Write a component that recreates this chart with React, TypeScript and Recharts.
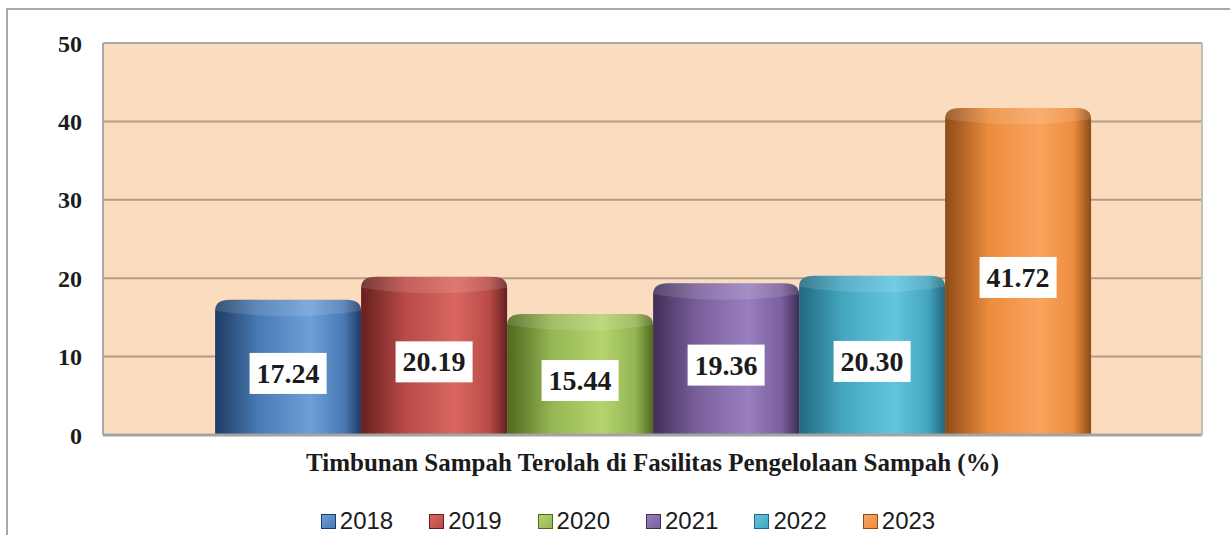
import React from "react";
import {
  Bar,
  BarChart,
  CartesianGrid,
  LabelList,
  Legend,
  ReferenceLine,
  XAxis,
  YAxis,
} from "recharts";

const categories = ["Timbunan Sampah Terolah di Fasilitas Pengelolaan Sampah (%)"];
const years = ["2018", "2019", "2020", "2021", "2022", "2023"];
const values = [17.24, 20.19, 15.44, 19.36, 20.3, 41.72];
const yTicks = [0, 10, 20, 30, 40, 50];

const baseColors = ["#4a7ab5", "#b84a47", "#94b553", "#7a5f9c", "#45a6c0", "#ec8c3e"];
const darkColors = ["#1f3b64", "#65201f", "#4f681c", "#402f57", "#22687d", "#8e4b16"];
const lightColors = ["#6f9fd8", "#d9675f", "#b5d46e", "#9a7fc0", "#62c6de", "#f8a45e"];

const data = categories.map((name) => {
  const row: Record<string, string | number> = { name };
  years.forEach((y, i) => {
    row[y] = values[i];
  });
  return row;
});

const SERIF = "'Liberation Serif', 'DejaVu Serif', serif";

function Cylinder(props: any) {
  const { x, y, width, height } = props;
  const gid = `cyl-${props.dataKey}`;
  const r = 15;
  const ry = 11;
  const path = `M${x},${y + height} L${x},${y + ry} Q${x},${y} ${x + r},${y} L${x + width - r},${y} Q${x + width},${y} ${x + width},${y + ry} L${x + width},${y + height} Z`;
  const cap = `M${x},${y + ry} Q${x},${y} ${x + r},${y} L${x + width - r},${y} Q${x + width},${y} ${x + width},${y + ry} Q${x + width / 2},${y + 2 * ry} ${x},${y + ry} Z`;
  return (
    <g>
      <path d={path} fill={`url(#${gid})`} />
      <path d={cap} fill="#ffffff" fillOpacity={0.12} />
    </g>
  );
}

function ValueBox(props: any) {
  const { x, y, width, height, value } = props;
  const cx = x + width / 2;
  const cy = y + height / 2 + 6;
  const w = 77;
  const h = 41;
  return (
    <g>
      <rect x={cx - w / 2} y={cy - h / 2} width={w} height={h} fill="#ffffff" />
      <text
        x={cx}
        y={cy}
        textAnchor="middle"
        dominantBaseline="central"
        fontFamily={SERIF}
        fontWeight="bold"
        fontSize={28}
        fill="#1b1b1b"
      >
        {Number(value).toFixed(2)}
      </text>
    </g>
  );
}

function LegendContent() {
  return (
    <div style={{ display: "flex", justifyContent: "center", gap: 36, paddingLeft: 26 }}>
      {years.map((y, i) => (
        <div key={y} style={{ display: "flex", alignItems: "center", gap: 4 }}>
          <span
            style={{
              display: "inline-block",
              width: 13,
              height: 13,
              background: `linear-gradient(135deg, ${lightColors[i]}, ${baseColors[i]})`,
              border: `1px solid ${darkColors[i]}`,
            }}
          />
          <span
            style={{
              fontFamily: "'Liberation Sans', Arial, sans-serif",
              fontSize: 24,
              color: "#1b1b1b",
              lineHeight: "26px",
            }}
          >
            {y}
          </span>
        </div>
      ))}
    </div>
  );
}

export default function App() {
  return (
    <div style={{ position: "absolute", left: 0, top: 0, width: 1230, height: 535, background: "#ffffff", overflow: "hidden" }}>
      <div
        style={{
          position: "absolute",
          left: 6,
          top: 8,
          width: 1240,
          height: 540,
          borderTop: "2px solid #a9a9a9",
          borderLeft: "2px solid #a9a9a9",
        }}
      />
      <BarChart
        width={1230}
        height={535}
        data={data}
        margin={{ top: 43, right: 0, left: 0, bottom: 30 }}
        barGap={0}
        barCategoryGap="10.2%"
        style={{ position: "absolute", left: 0, top: 0 }}
      >
        <defs>
          {years.map((y, i) => (
            <linearGradient key={y} id={`cyl-${y}`} x1="0" y1="0" x2="1" y2="0">
              <stop offset="0%" stopColor={darkColors[i]} />
              <stop offset="30%" stopColor={baseColors[i]} />
              <stop offset="65%" stopColor={lightColors[i]} />
              <stop offset="88%" stopColor={baseColors[i]} />
              <stop offset="100%" stopColor={darkColors[i]} />
            </linearGradient>
          ))}
        </defs>
        <CartesianGrid vertical={false} fill="#fcdcbf" stroke="#b29c8a" strokeWidth={2} />
        <XAxis
          dataKey="name"
          axisLine={false}
          tickLine={false}
          height={40}
          tickMargin={12}
          tick={{ fontFamily: SERIF, fontWeight: "bold", fontSize: 25, fill: "#1b1b1b" }}
        />
        <YAxis
          domain={[0, 50]}
          ticks={yTicks}
          width={103}
          tickLine={false}
          tickMargin={15}
          axisLine={{ stroke: "#a9a9a9", strokeWidth: 2 }}
          tick={{ fontFamily: SERIF, fontWeight: "bold", fontSize: 24, fill: "#1b1b1b" }}
        />
        <YAxis
          yAxisId="r"
          orientation="right"
          domain={[0, 50]}
          ticks={yTicks}
          width={28}
          tick={false}
          tickLine={false}
          axisLine={{ stroke: "#bdbdbd", strokeWidth: 2 }}
        />
        {years.map((y) => (
          <Bar key={y} dataKey={y} isAnimationActive={false} shape={<Cylinder />}>
            <LabelList dataKey={y} content={<ValueBox />} />
          </Bar>
        ))}
        <ReferenceLine y={50} stroke="#a9a9a9" strokeWidth={2} />
        <ReferenceLine y={0} stroke="#a3a3a3" strokeWidth={3} />
        <Legend
          verticalAlign="bottom"
          height={30}
          content={<LegendContent />}
          wrapperStyle={{ bottom: -3 }}
        />
      </BarChart>
    </div>
  );
}
